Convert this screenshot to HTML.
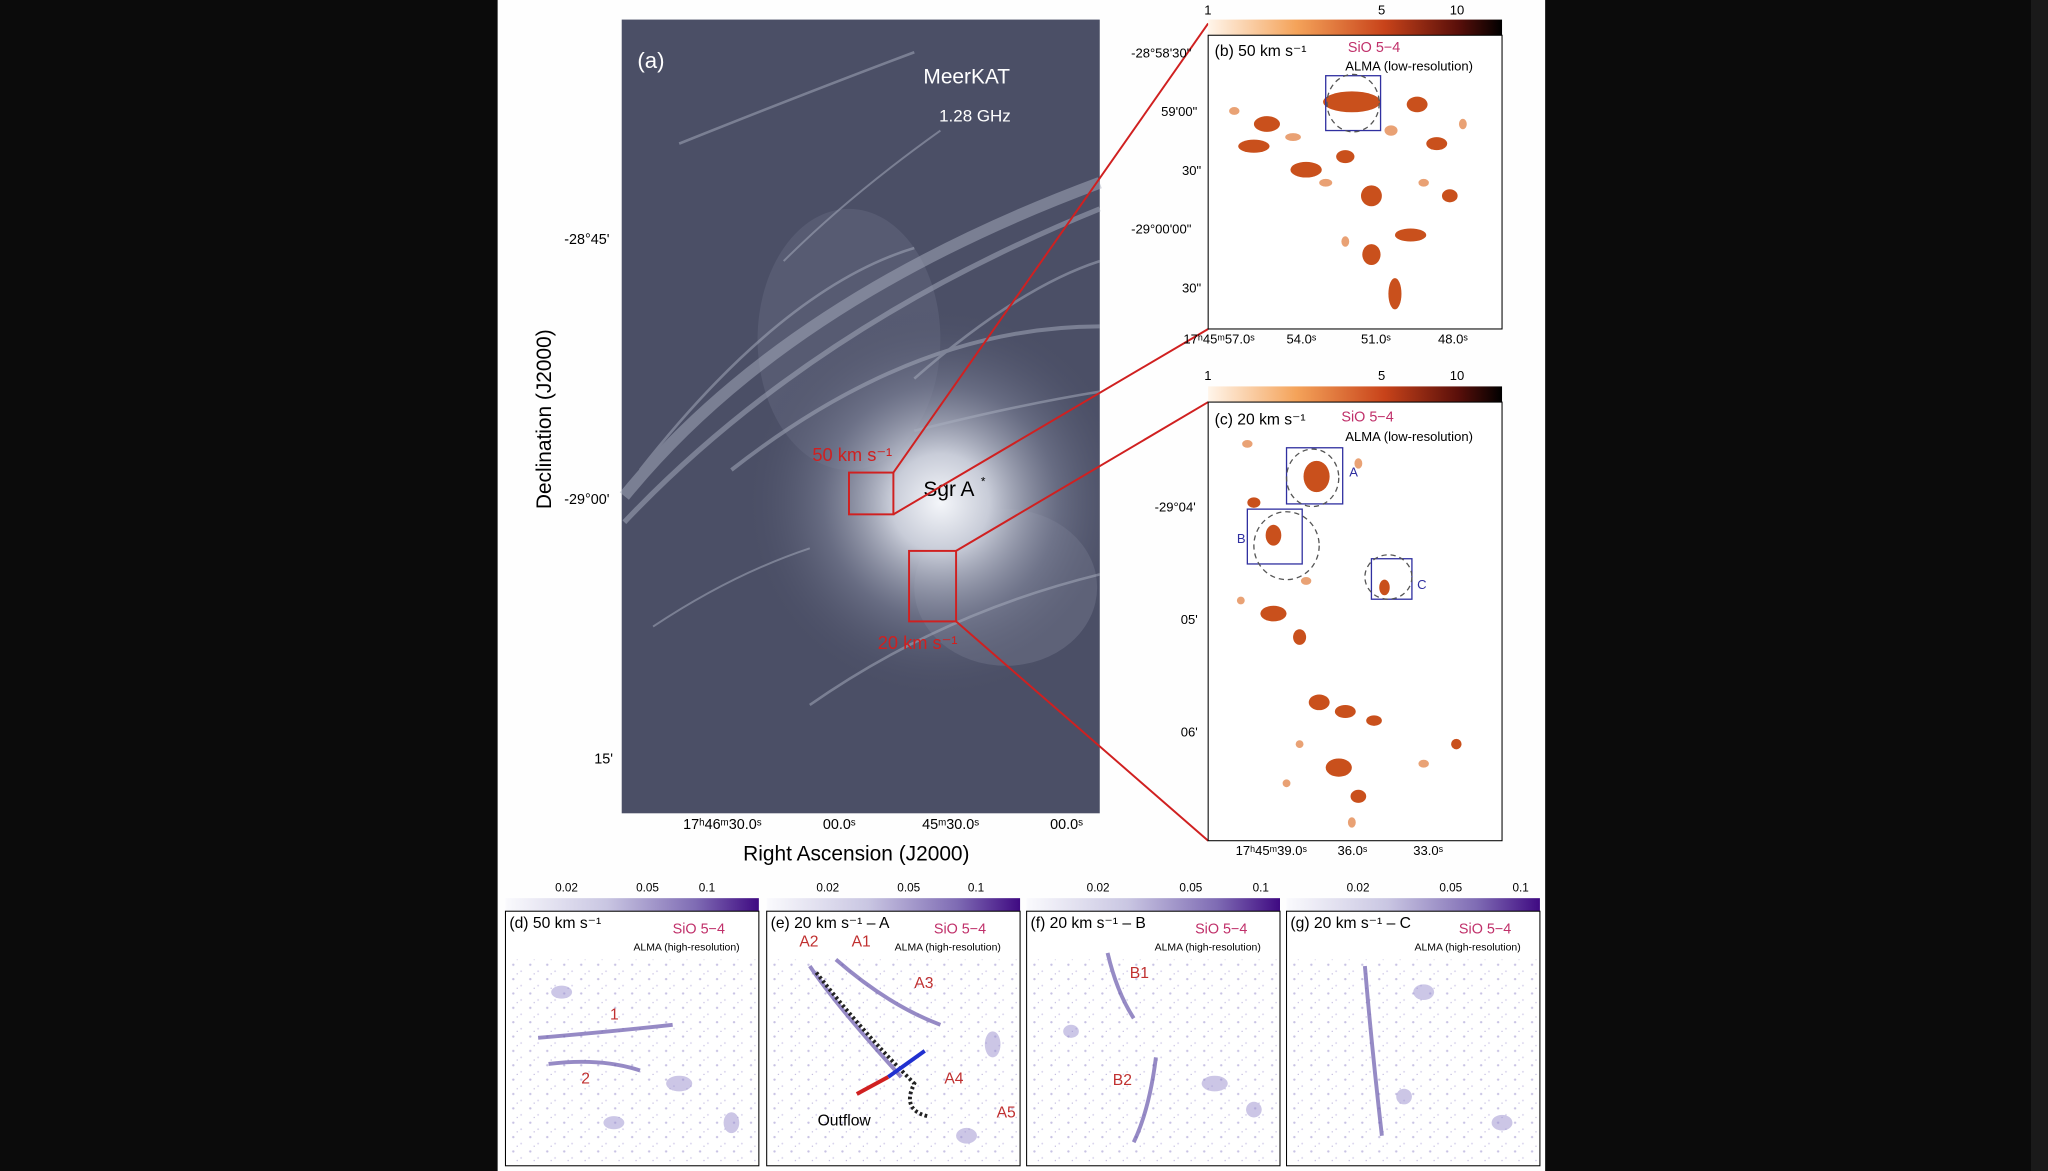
<!DOCTYPE html>
<html><head><meta charset="utf-8"><style>
html,body{margin:0;padding:0;background:#0b0b0b;width:2048px;height:1171px;overflow:hidden}
svg{display:block}
text{font-family:"Liberation Sans",sans-serif}
</style></head><body>
<svg width="2048" height="1171" viewBox="0 0 1568 897" preserveAspectRatio="none" xmlns="http://www.w3.org/2000/svg">
<defs>
<radialGradient id="glow" cx="720" cy="385" r="150" gradientUnits="userSpaceOnUse">
<stop offset="0" stop-color="#f4f6fa"/><stop offset="0.25" stop-color="#c8ccd8"/><stop offset="0.6" stop-color="#7a7f95" stop-opacity="0.6"/><stop offset="1" stop-color="#4b4f66" stop-opacity="0"/></radialGradient>
<linearGradient id="cbo" x1="0" x2="1"><stop offset="0" stop-color="#fff5ea"/><stop offset="0.3" stop-color="#f4a35a"/><stop offset="0.6" stop-color="#c8431a"/><stop offset="0.85" stop-color="#5a0f0a"/><stop offset="1" stop-color="#000"/></linearGradient>
<linearGradient id="cbp" x1="0" x2="1"><stop offset="0" stop-color="#fafafd"/><stop offset="0.4" stop-color="#c9c6e2"/><stop offset="0.75" stop-color="#7f6cb4"/><stop offset="1" stop-color="#3f0a82"/></linearGradient>
<pattern id="spk" width="13" height="11" patternUnits="userSpaceOnUse">
<circle cx="3" cy="2" r="0.9" fill="#b9b2dc"/><circle cx="9" cy="7" r="0.7" fill="#cfc9e8"/><circle cx="6" cy="9" r="0.5" fill="#a99fd2"/></pattern>
</defs>
<rect x="381" y="0" width="802" height="897" fill="#fefefe"/>
<rect x="1555" y="0" width="13" height="897" fill="#1a1a1a"/>
<!-- panel a -->
<rect x="476" y="15" width="366" height="608" fill="#4b4f66"/>
<ellipse cx="650" cy="260" rx="70" ry="100" fill="#7a8098" opacity="0.25"/>
<ellipse cx="770" cy="450" rx="70" ry="60" fill="#9aa0b3" opacity="0.25"/>
<rect x="476" y="15" width="366" height="608" fill="url(#glow)"/>
<g stroke="#aab0c0" fill="none" opacity="0.5">
<path d="M478 380 Q600 230 842 140" stroke-width="9"/>
<path d="M478 400 Q620 250 842 160" stroke-width="4"/>
<path d="M490 360 Q600 220 700 190" stroke-width="2"/>
<path d="M560 360 Q700 250 842 250" stroke-width="3"/>
<path d="M700 290 Q780 220 842 200" stroke-width="2"/>
<path d="M700 330 Q780 310 842 300" stroke-width="2"/>
<path d="M520 110 Q620 70 700 40" stroke-width="2"/>
<path d="M600 200 Q650 150 720 100" stroke-width="1.5"/>
<path d="M620 540 Q720 470 842 440" stroke-width="2"/>
<path d="M500 480 Q560 440 620 420" stroke-width="1.5"/>
</g>
<text x="488" y="52" fill="#fff" font-size="17">(a)</text>
<text x="707" y="64" fill="#fff" font-size="16">MeerKAT</text>
<text x="719" y="93" fill="#fff" font-size="13">1.28 GHz</text>
<text x="707" y="380" fill="#000" font-size="16">Sgr A</text><text x="751" y="372" font-size="9">*</text>
<text x="622" y="353" fill="#d02020" font-size="14">50 km s⁻¹</text>
<text x="672" y="497" fill="#d02020" font-size="14">20 km s⁻¹</text>
<rect x="650" y="362" width="34" height="32" fill="none" stroke="#d02020" stroke-width="1.5"/>
<rect x="696" y="422" width="36" height="54" fill="none" stroke="#d02020" stroke-width="1.5"/>
<g stroke="#d02020" stroke-width="1.5">
<line x1="684" y1="362" x2="925" y2="18"/><line x1="684" y1="394" x2="925" y2="252"/>
<line x1="732" y1="422" x2="925" y2="308"/><line x1="732" y1="476" x2="925" y2="644"/>
</g>
<g font-size="11" fill="#000">
<text x="432" y="187">-28°45'</text><text x="432" y="386">-29°00'</text><text x="455" y="585">15'</text>
<text x="523" y="635">17ʰ46ᵐ30.0ˢ</text><text x="630" y="635">00.0ˢ</text><text x="706" y="635">45ᵐ30.0ˢ</text><text x="804" y="635">00.0ˢ</text>
</g>
<text x="569" y="659" font-size="16">Right Ascension (J2000)</text>
<text transform="translate(422,390) rotate(-90)" font-size="16">Declination (J2000)</text>
<!-- panel b -->
<rect x="925" y="15" width="225" height="12" fill="url(#cbo)"/>
<rect x="925" y="27" width="225" height="225" fill="#fff" stroke="#000" stroke-width="0.8"/>
<g fill="#c9501c">
<ellipse cx="1035" cy="78" rx="22" ry="8"/><ellipse cx="970" cy="95" rx="10" ry="6"/><ellipse cx="1000" cy="130" rx="12" ry="6"/><ellipse cx="960" cy="112" rx="12" ry="5"/>
<ellipse cx="1050" cy="150" rx="8" ry="8"/><ellipse cx="1080" cy="180" rx="12" ry="5"/><ellipse cx="1050" cy="195" rx="7" ry="8"/><ellipse cx="1068" cy="225" rx="5" ry="12"/>
<ellipse cx="1085" cy="80" rx="8" ry="6"/><ellipse cx="1100" cy="110" rx="8" ry="5"/><ellipse cx="1030" cy="120" rx="7" ry="5"/><ellipse cx="1110" cy="150" rx="6" ry="5"/>
</g>
<g fill="#e07a3a" opacity="0.7">
<ellipse cx="990" cy="105" rx="6" ry="3"/><ellipse cx="1015" cy="140" rx="5" ry="3"/><ellipse cx="1065" cy="100" rx="5" ry="4"/><ellipse cx="1120" cy="95" rx="3" ry="4"/><ellipse cx="1030" cy="185" rx="3" ry="4"/><ellipse cx="1090" cy="140" rx="4" ry="3"/><ellipse cx="945" cy="85" rx="4" ry="3"/>
</g>
<rect x="1015" y="58" width="42" height="42" fill="none" stroke="#3030a0"/>
<ellipse cx="1036" cy="79" rx="20" ry="22" fill="none" stroke="#555" stroke-dasharray="4,3"/>
<text x="930" y="43" font-size="12">(b) 50 km s⁻¹</text><text x="1032" y="40" font-size="11" fill="#c0306a">SiO 5−4</text>
<text x="1030" y="54" font-size="10">ALMA (low-resolution)</text>
<g font-size="10"><text x="866" y="44">-28°58'30"</text><text x="889" y="89">59'00"</text><text x="905" y="134">30"</text><text x="866" y="179">-29°00'00"</text><text x="905" y="224">30"</text>
<text x="906" y="263">17ʰ45ᵐ57.0ˢ</text><text x="985" y="263">54.0ˢ</text><text x="1042" y="263">51.0ˢ</text><text x="1101" y="263">48.0ˢ</text>
<text x="922" y="11">1</text><text x="1055" y="11">5</text><text x="1110" y="11">10</text>
<text x="922" y="291">1</text><text x="1055" y="291">5</text><text x="1110" y="291">10</text></g>
<!-- panel c -->
<rect x="925" y="296" width="225" height="12" fill="url(#cbo)"/>
<rect x="925" y="308" width="225" height="336" fill="#fff" stroke="#000" stroke-width="0.8"/>
<g fill="#c9501c">
<ellipse cx="1008" cy="365" rx="10" ry="12"/><ellipse cx="975" cy="410" rx="6" ry="8"/><ellipse cx="1060" cy="450" rx="4" ry="6"/><ellipse cx="975" cy="470" rx="10" ry="6"/>
<ellipse cx="995" cy="488" rx="5" ry="6"/><ellipse cx="1010" cy="538" rx="8" ry="6"/><ellipse cx="1030" cy="545" rx="8" ry="5"/><ellipse cx="1052" cy="552" rx="6" ry="4"/>
<ellipse cx="1025" cy="588" rx="10" ry="7"/><ellipse cx="1040" cy="610" rx="6" ry="5"/><ellipse cx="1115" cy="570" rx="4" ry="4"/><ellipse cx="960" cy="385" rx="5" ry="4"/>
</g>
<g fill="#e07a3a" opacity="0.7">
<ellipse cx="955" cy="340" rx="4" ry="3"/><ellipse cx="1040" cy="355" rx="3" ry="4"/><ellipse cx="1000" cy="445" rx="4" ry="3"/><ellipse cx="950" cy="460" rx="3" ry="3"/><ellipse cx="1090" cy="585" rx="4" ry="3"/><ellipse cx="995" cy="570" rx="3" ry="3"/><ellipse cx="1035" cy="630" rx="3" ry="4"/><ellipse cx="985" cy="600" rx="3" ry="3"/>
</g>
<rect x="985" y="343" width="43" height="43" fill="none" stroke="#3030a0"/>
<ellipse cx="1005" cy="366" rx="20" ry="22" fill="none" stroke="#555" stroke-dasharray="4,3"/>
<rect x="955" y="390" width="42" height="42" fill="none" stroke="#3030a0"/>
<ellipse cx="985" cy="418" rx="25" ry="26" fill="none" stroke="#555" stroke-dasharray="4,3"/>
<rect x="1050" y="428" width="31" height="31" fill="none" stroke="#3030a0"/>
<ellipse cx="1063" cy="442" rx="18" ry="17" fill="none" stroke="#555" stroke-dasharray="4,3"/>
<g font-size="10" fill="#3030a0"><text x="1033" y="365">A</text><text x="947" y="416">B</text><text x="1085" y="451">C</text></g>
<text x="930" y="325" font-size="12">(c) 20 km s⁻¹</text><text x="1027" y="323" font-size="11" fill="#c0306a">SiO 5−4</text>
<text x="1030" y="338" font-size="10">ALMA (low-resolution)</text>
<g font-size="10"><text x="884" y="392">-29°04'</text><text x="904" y="478">05'</text><text x="904" y="564">06'</text>
<text x="946" y="655">17ʰ45ᵐ39.0ˢ</text><text x="1024" y="655">36.0ˢ</text><text x="1082" y="655">33.0ˢ</text></g>
<!-- bottom panels -->
<g id="bp">
<rect x="387" y="688" width="194" height="10" fill="url(#cbp)"/>
<rect x="387" y="698" width="194" height="195" fill="#fff" stroke="#000" stroke-width="0.8"/>
<rect x="388" y="735" width="192" height="157" fill="url(#spk)" opacity="0.8"/>
</g>
<use href="#bp" x="200"/><use href="#bp" x="399"/><use href="#bp" x="598"/>
<g font-size="9"><text x="425" y="683">0.02</text><text x="487" y="683">0.05</text><text x="535" y="683">0.1</text>
<text x="625" y="683">0.02</text><text x="687" y="683">0.05</text><text x="741" y="683">0.1</text>
<text x="832" y="683">0.02</text><text x="903" y="683">0.05</text><text x="959" y="683">0.1</text>
<text x="1031" y="683">0.02</text><text x="1102" y="683">0.05</text><text x="1158" y="683">0.1</text></g>
<g fill="#9a8fcf" opacity="0.5">
<ellipse cx="430" cy="760" rx="8" ry="5"/><ellipse cx="520" cy="830" rx="10" ry="6"/><ellipse cx="560" cy="860" rx="6" ry="8"/><ellipse cx="470" cy="860" rx="8" ry="5"/>
<ellipse cx="760" cy="800" rx="6" ry="10"/><ellipse cx="740" cy="870" rx="8" ry="6"/>
<ellipse cx="930" cy="830" rx="10" ry="6"/><ellipse cx="960" cy="850" rx="6" ry="6"/><ellipse cx="820" cy="790" rx="6" ry="5"/>
<ellipse cx="1090" cy="760" rx="8" ry="6"/><ellipse cx="1150" cy="860" rx="8" ry="6"/><ellipse cx="1075" cy="840" rx="6" ry="6"/>
</g>
<g stroke="#6a5aad" fill="none" stroke-width="3" opacity="0.7">
<path d="M412 795 Q470 790 515 785"/><path d="M420 815 Q460 810 490 820"/>
<path d="M640 735 Q680 770 720 785"/><path d="M620 740 Q640 770 690 825"/>
<path d="M848 730 Q855 760 868 780"/><path d="M885 810 Q880 850 868 875"/>
<path d="M1045 740 Q1050 800 1058 870"/>
</g>
<path d="M625 745 Q660 790 700 830 Q690 850 710 855" stroke="#222" fill="none" stroke-width="3" stroke-dasharray="2,2"/>
<line x1="680" y1="825" x2="708" y2="805" stroke="#2030d0" stroke-width="3"/><line x1="656" y1="838" x2="680" y2="825" stroke="#d02020" stroke-width="3"/>
<g font-size="12"><text x="390" y="711">(d) 50 km s⁻¹</text><text x="590" y="711">(e) 20 km s⁻¹ – A</text><text x="789" y="711">(f) 20 km s⁻¹ – B</text><text x="988" y="711">(g) 20 km s⁻¹ – C</text></g>
<g font-size="11" fill="#c0306a"><text x="515" y="715">SiO 5−4</text><text x="715" y="715">SiO 5−4</text><text x="915" y="715">SiO 5−4</text><text x="1117" y="715">SiO 5−4</text></g>
<g font-size="8"><text x="485" y="728">ALMA (high-resolution)</text><text x="685" y="728">ALMA (high-resolution)</text><text x="884" y="728">ALMA (high-resolution)</text><text x="1083" y="728">ALMA (high-resolution)</text></g>
<g font-size="12" fill="#c03030"><text x="467" y="781">1</text><text x="445" y="830">2</text><text x="612" y="725">A2</text><text x="652" y="725">A1</text><text x="700" y="757">A3</text><text x="723" y="830">A4</text><text x="763" y="856">A5</text><text x="865" y="749">B1</text><text x="852" y="831">B2</text></g>
<text x="626" y="862" font-size="12">Outflow</text>
</svg>
</body></html>
